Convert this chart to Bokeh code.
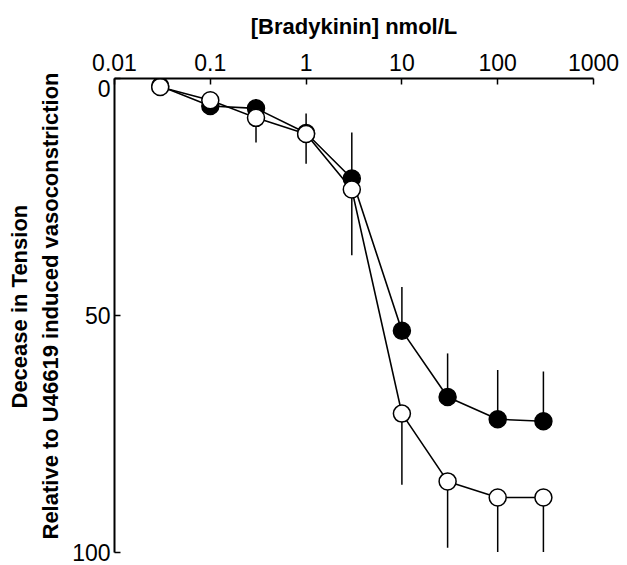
import math
from bokeh.plotting import figure
from bokeh.models import Range1d, FixedTicker, CustomJSTickFormatter, ColumnDataSource, Title
from bokeh.embed import file_html
from bokeh.resources import INLINE

# Data
conc = [0.03, 0.1, 0.3, 1, 3, 10, 30, 100, 300]
filled_vals = [1.6, 5.8, 6.3, 11.5, 21.1, 53.2, 67.2, 71.9, 72.3]
filled_err = [0, 0, 1.9, 4.1, 9.7, 9.2, 9.2, 10.4, 10.5]
open_vals = [1.8, 4.6, 8.3, 11.7, 23.4, 70.7, 85.0, 88.4, 88.4]
open_err = [0, 0, 5.2, 6.3, 13.9, 15.0, 14.0, 11.5, 11.5]
x_ticks = [0.01, 0.1, 1, 10, 100, 1000]
y_ticks = [0, 50, 100]
y_title_lines = ["Decease in Tension", "Relative to U46619 induced vasoconstriction"]

FONT = "Liberation Sans"

p = figure(width=627, height=565, x_axis_type="log", x_axis_location="above",
           x_range=Range1d(0.01, 1000), y_range=Range1d(100, 0),
           output_backend="svg", toolbar_location=None,
           min_border_left=114, min_border_right=34, min_border_top=78, min_border_bottom=13)
p.outline_line_color = None
p.xgrid.visible = False
p.ygrid.visible = False
p.background_fill_color = "white"
p.border_fill_color = "white"

xa = p.xaxis[0]
xa.ticker = FixedTicker(ticks=x_ticks)
xa.formatter = CustomJSTickFormatter(code="return String(tick);")
ya = p.yaxis[0]
ya.ticker = FixedTicker(ticks=y_ticks)
# the "0" label sits just below the top axis line in the reference
ya.major_label_overrides = {0: "\n0"}
ya.major_label_text_line_height = 0.8

for ax in (xa, ya):
    ax.axis_line_width = 2
    ax.axis_line_color = "black"
    ax.major_tick_line_color = "black"
    ax.major_tick_line_width = 1.5
    ax.major_tick_in = 6
    ax.major_tick_out = 0
    ax.minor_tick_line_color = None
    ax.major_label_text_font = FONT
    ax.major_label_text_font_size = "23px"
    ax.major_label_text_color = "black"
xa.major_label_standoff = 8
ya.major_label_standoff = 4

xa.axis_label = "[Bradykinin] nmol/L"
xa.axis_label_standoff = 12
xa.axis_label_text_font = FONT
xa.axis_label_text_font_size = "22px"
xa.axis_label_text_font_style = "bold"
xa.axis_label_text_color = "black"

t2 = Title(text=y_title_lines[1], align="left", offset=13, standoff=13,
           text_font=FONT, text_font_size="22px", text_font_style="bold", text_color="black")
t1 = Title(text=y_title_lines[0], align="left", offset=144, standoff=-4,
           text_font=FONT, text_font_size="22px", text_font_style="bold", text_color="black")
p.add_layout(t2, "left")
p.add_layout(t1, "left")

fs = ColumnDataSource(dict(x=conc, y=filled_vals,
                           y_end=[v - e for v, e in zip(filled_vals, filled_err)]))
os_ = ColumnDataSource(dict(x=conc, y=open_vals,
                            y_end=[v + e for v, e in zip(open_vals, open_err)]))

p.segment(x0="x", y0="y", x1="x", y1="y_end", source=fs, line_color="black", line_width=1.5)
p.segment(x0="x", y0="y", x1="x", y1="y_end", source=os_, line_color="black", line_width=1.5)
p.line("x", "y", source=fs, line_color="black", line_width=1.6)
p.line("x", "y", source=os_, line_color="black", line_width=1.6)
p.scatter("x", "y", source=fs, size=17, fill_color="black", line_color="black", line_width=1.5)
p.scatter("x", "y", source=os_, size=17, fill_color="white", line_color="black", line_width=1.5)

open("out.html", "w").write(file_html(p, INLINE))
